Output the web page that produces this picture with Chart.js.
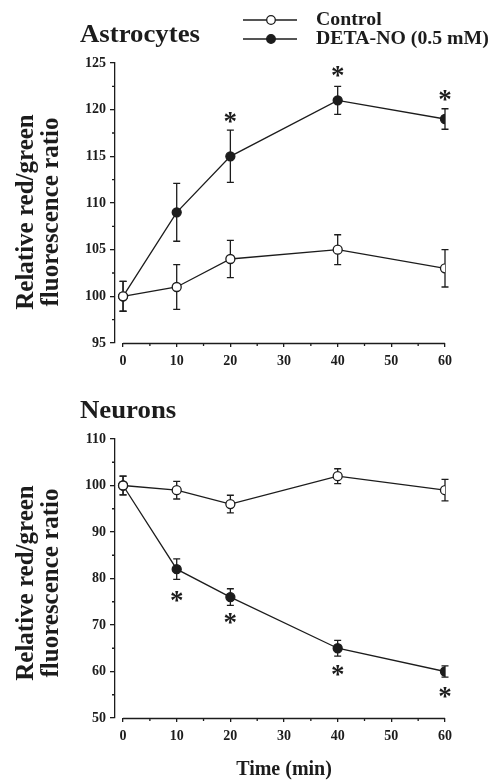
<!DOCTYPE html>
<html><head><meta charset="utf-8">
<script src="https://cdn.jsdelivr.net/npm/chart.js@4.4.1/dist/chart.umd.min.js"></script>
<style>
html,body{margin:0;padding:0;background:#fff;width:494px;height:781px;overflow:hidden}
.c{position:absolute;left:0;width:494px}
#top{top:0;height:380px}
#bot{top:380px;height:401px}
canvas{display:block}
</style></head><body>
<div class="c" id="top"><canvas id="c1" width="494" height="380"></canvas></div>
<div class="c" id="bot"><canvas id="c2" width="494" height="401"></canvas></div>
<script>
// ---- data ----
const timePoints = [0, 10, 20, 40, 60];
const xTickLabels = ['0', '10', '20', '30', '40', '50', '60'];

const astroControl    = [100, 101, 104, 105, 103];
const astroControlErr = [1.6, 2.4, 2.0, 1.6, 2.0];
const astroDeta       = [100, 109, 115, 121, 119];
const astroDetaErr    = [1.6, 3.1, 2.8, 1.5, 1.1];
const astroStarTimes  = [20, 40, 60];
const astroStarLevels = [119.2, 124.1, 121.5];

const neuroControl    = [100, 99, 96, 102, 99];
const neuroControlErr = [2.0, 1.9, 1.9, 1.6, 2.3];
const neuroDeta       = [100, 82, 76, 65, 60];
const neuroDetaErr    = [2.0, 2.2, 1.8, 1.7, 1.2];
const neuroStarTimes  = [10, 20, 40, 60];
const neuroStarLevels = [76.2, 71.3, 60.2, 55.4];

const seriesNames = ['Control', 'DETA-NO (0.5 mM)'];

// ---- style ----
const SERIF = "'Liberation Serif','Times New Roman',serif";
const INK = '#1c1c1c';
const LW = 1.3;

const errorBarsPlugin = {
  id: 'errbars',
  beforeDatasetsDraw(chart) {
    const ctx = chart.ctx, xs = chart.scales.x, ys = chart.scales.y;
    ctx.save();
    ctx.strokeStyle = INK; ctx.lineWidth = LW;
    chart.data.datasets.forEach(ds => {
      ds.data.forEach((p, i) => {
        const e = ds.errors[i];
        const x = xs.getPixelForValue(p.x);
        const y1 = ys.getPixelForValue(p.y + e), y2 = ys.getPixelForValue(p.y - e);
        ctx.beginPath();
        ctx.moveTo(x, y1); ctx.lineTo(x, y2);
        ctx.moveTo(x - 3.5, y1); ctx.lineTo(x + 3.5, y1);
        ctx.moveTo(x - 3.5, y2); ctx.lineTo(x + 3.5, y2);
        ctx.stroke();
      });
    });
    ctx.restore();
  }
};

const decorPlugin = {
  id: 'decor',
  afterDraw(chart, args, o) {
    const ctx = chart.ctx, xs = chart.scales.x, ys = chart.scales.y;
    ctx.save();
    ctx.strokeStyle = INK; ctx.fillStyle = INK; ctx.lineWidth = LW;
    // x axis line from 0 to 60
    const xb = ys.getPixelForValue(ys.min);
    ctx.beginPath();
    ctx.moveTo(xs.getPixelForValue(0), xb + 0.5);
    ctx.lineTo(xs.getPixelForValue(60), xb + 0.5);
    ctx.stroke();
    // minor ticks
    ctx.beginPath();
    for (let v = 5; v < 60; v += 10) {
      const x = xs.getPixelForValue(v);
      ctx.moveTo(x, xb); ctx.lineTo(x, xb + 3);
    }
    for (let v = ys.min + o.yMinor; v < ys.max; v += o.yMinor * 2) {
      const y = ys.getPixelForValue(v);
      ctx.moveTo(chart.chartArea.left, y); ctx.lineTo(chart.chartArea.left - 3, y);
    }
    ctx.stroke();
    // stars (glyph box centred on the level)
    ctx.font = 'bold 27px ' + SERIF;
    ctx.textAlign = 'center'; ctx.textBaseline = 'alphabetic';
    const m = ctx.measureText('*');
    const top = m.actualBoundingBoxAscent, bot = m.actualBoundingBoxDescent;
    const mid = (top - bot) / 2;
    o.starTimes.forEach((t, i) => {
      const x = xs.getPixelForValue(t), y = ys.getPixelForValue(o.starLevels[i]);
      ctx.fillText('*', x, y + mid);
    });
    // panel title
    ctx.textAlign = 'left';
    ctx.font = 'bold 26px ' + SERIF;
    ctx.save();
    ctx.translate(80, o.titleY); ctx.scale(1.03, 1);
    ctx.fillText(o.title, 0, 0);
    ctx.restore();
    // y axis title
    ctx.font = 'bold 25px ' + SERIF;
    ctx.save();
    ctx.translate(0, o.yTitleY);
    ctx.rotate(-Math.PI / 2);
    ctx.textAlign = 'center'; ctx.textBaseline = 'middle';
    ctx.fillText('Relative red/green', 0, 27);
    ctx.fillText('fluorescence ratio', 0, 52);
    ctx.restore();
    // legend
    if (o.legend) {
      const rows = [20, 39];
      chart.data.datasets.forEach((ds, i) => {
        const y = rows[i];
        ctx.beginPath(); ctx.moveTo(243, y); ctx.lineTo(297, y); ctx.stroke();
        ctx.beginPath(); ctx.arc(271, y, 4.3, 0, Math.PI * 2);
        ctx.fillStyle = ds.pointBackgroundColor; ctx.fill(); ctx.stroke();
        ctx.fillStyle = INK;
        ctx.font = 'bold 18px ' + SERIF;
        ctx.textAlign = 'left'; ctx.textBaseline = 'middle';
        ctx.save();
        ctx.translate(316, y); ctx.scale(1.1, 1);
        ctx.fillText(ds.label, 0, 0);
        ctx.restore();
      });
    }
    if (o.xTitle) {
      ctx.font = 'bold 20px ' + SERIF;
      ctx.textAlign = 'center'; ctx.textBaseline = 'alphabetic';
      ctx.fillText(o.xTitle, (xs.getPixelForValue(0) + xs.getPixelForValue(60)) / 2, o.xTitleY);
    }
    ctx.restore();
  }
};

function makeDataset(label, vals, errs, fill) {
  return {
    label, errors: errs,
    data: timePoints.map((t, i) => ({ x: t, y: vals[i] })),
    borderColor: INK, borderWidth: LW, tension: 0,
    pointRadius: 4.5, pointBorderWidth: LW,
    pointBackgroundColor: fill, pointBorderColor: INK
  };
}

function tickFont() { return { family: SERIF, size: 14, weight: 'bold' }; }

function makeChart(id, p) {
  return new Chart(document.getElementById(id), {
    type: 'line',
    data: { datasets: [
      makeDataset(seriesNames[0], p.control, p.controlErr, '#ffffff'),
      makeDataset(seriesNames[1], p.deta, p.detaErr, INK)
    ]},
    options: {
      responsive: false, animation: false, events: [],
      layout: { padding: { left: 0, right: 49, top: p.padTop, bottom: 0 } },
      plugins: {
        legend: { display: false }, tooltip: { enabled: false },
        decor: p.decor
      },
      scales: {
        x: {
          type: 'linear', min: -1.5, max: 60,
          afterFit: s => { s.height = p.xHeight; },
          afterBuildTicks: s => { s.ticks = s.ticks.filter(t => t.value >= 0); },
          border: { display: false },
          grid: { drawOnChartArea: false, color: INK, lineWidth: LW, tickLength: 4 },
          ticks: { stepSize: 10, includeBounds: false, padding: 6, color: INK, font: tickFont(), maxRotation: 0,
                   callback: v => xTickLabels[v / 10] }
        },
        y: {
          min: p.yMin, max: p.yMax,
          afterFit: s => { s.width = 115; },
          border: { display: true, color: INK, width: LW },
          grid: { drawOnChartArea: false, color: INK, lineWidth: LW, tickLength: 5 },
          ticks: { stepSize: p.yStep, padding: 4, color: INK, font: tickFont() }
        }
      }
    },
    plugins: [errorBarsPlugin, decorPlugin]
  });
}

makeChart('c1', {
  control: astroControl, controlErr: astroControlErr, deta: astroDeta, detaErr: astroDetaErr,
  padTop: 63, xHeight: 37, yMin: 95, yMax: 125, yStep: 5,
  decor: { title: 'Astrocytes', titleY: 42, yTitleY: 212, yMinor: 2.5, legend: true,
           starTimes: astroStarTimes, starLevels: astroStarLevels }
});
makeChart('c2', {
  control: neuroControl, controlErr: neuroControlErr, deta: neuroDeta, detaErr: neuroDetaErr,
  padTop: 59, xHeight: 63, yMin: 50, yMax: 110, yStep: 10,
  decor: { title: 'Neurons', titleY: 38, yTitleY: 203, yMinor: 5, legend: false,
           starTimes: neuroStarTimes, starLevels: neuroStarLevels,
           xTitle: 'Time (min)', xTitleY: 395 }
});
</script>
</body></html>
